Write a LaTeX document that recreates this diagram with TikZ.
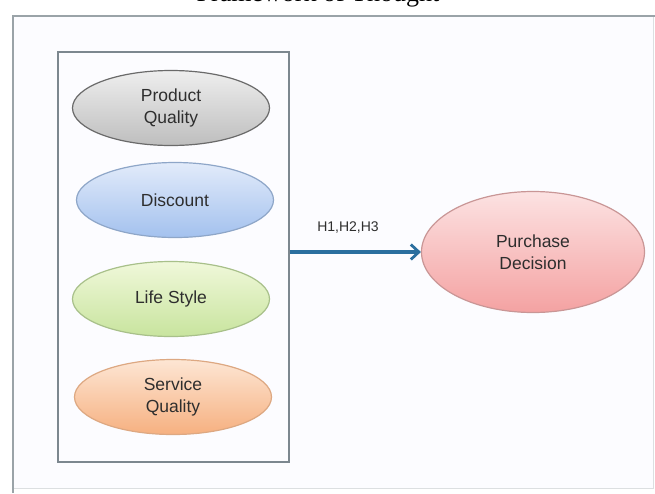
\documentclass[tikz,border=0pt]{standalone}
\usepackage{fontspec}
\setmainfont{Liberation Sans}
\newfontfamily\titlefont{Liberation Serif}
\usetikzlibrary{shapes.geometric,arrows.meta,shadings}
\definecolor{framegray}{HTML}{9AA3A8}
\definecolor{boxgray}{HTML}{7C878F}
\definecolor{arrowblue}{HTML}{2B6F9F}
\definecolor{txt}{HTML}{2E2E2E}
\definecolor{pqtop}{HTML}{EEEEEE}\definecolor{pqbot}{HTML}{BEBEBE}\definecolor{pqln}{HTML}{6A6A6A}
\definecolor{dctop}{HTML}{E2EBFA}\definecolor{dcbot}{HTML}{A3C1EE}\definecolor{dcln}{HTML}{8EA6C8}
\definecolor{lstop}{HTML}{F0F8DA}\definecolor{lsbot}{HTML}{C8E49E}\definecolor{lsln}{HTML}{A8C08A}
\definecolor{sqtop}{HTML}{FDE6D4}\definecolor{sqbot}{HTML}{F6B080}\definecolor{sqln}{HTML}{DDA882}
\definecolor{pdtop}{HTML}{FCE2E2}\definecolor{pdbot}{HTML}{F4A2A2}\definecolor{pdln}{HTML}{C99696}
\tikzset{
  oval/.style={ellipse, inner sep=0pt, align=center, text=txt,
    font=\fontsize{17.5}{22}\selectfont, line width=1.2pt},
  ovalsmall/.style={oval, minimum width=197pt, minimum height=75pt},
  arrowline/.style={draw=arrowblue, line width=3.4pt, -{Straight Barb[length=8pt,width=15pt,line width=2.8pt]}},
  lbl/.style={font=\fontsize{14}{16}\selectfont, text=txt, inner sep=0pt}
}
\begin{document}
\begin{tikzpicture}[x=1pt,y=-1pt]
\useasboundingbox (0,0) rectangle (655,493);
\fill[white] (0,0) rectangle (655,493);
\fill[blue!1!white] (13,16) rectangle (653,488);
% title, mostly cut off by the page edge
\begin{scope}
\clip (0,0) rectangle (655,493);
\node[anchor=base, font=\titlefont\fontsize{26}{30}\selectfont, inner sep=0pt] (title) at (318,1) {Framework of Thought};
\end{scope}
% outer frame
\draw[framegray!35, line width=1pt] (653,16) -- (653,488) -- (13,488);
\draw[framegray, line width=2pt] (13,493) -- (13,16) -- (655,16);
% inner box
\node[draw=boxgray, line width=1.8pt, minimum width=231pt, minimum height=410pt, inner sep=0pt] (box) at (173.5,257) {};
% ovals
\node[ovalsmall, draw=pqln, top color=pqtop, bottom color=pqbot] (pq) at (171,108) {Product\\Quality};
\node[ovalsmall, draw=dcln, top color=dctop, bottom color=dcbot] (dc) at (175,200) {Discount};
\node[ovalsmall, draw=lsln, top color=lstop, bottom color=lsbot] (ls) at (171,299) {Life Style};
\node[ovalsmall, draw=sqln, top color=sqtop, bottom color=sqbot] (sq) at (173,397) {Service\\Quality};
\node[oval, minimum width=223pt, minimum height=121pt, draw=pdln, top color=pdtop, bottom color=pdbot] (pd) at (533,252) {Purchase\\Decision};
% arrow
\draw[arrowline] (box.east |- pd.west) -- (pd.west);
\node[lbl] (h) at (348,228) {H1,H2,H3};
\end{tikzpicture}
\end{document}
